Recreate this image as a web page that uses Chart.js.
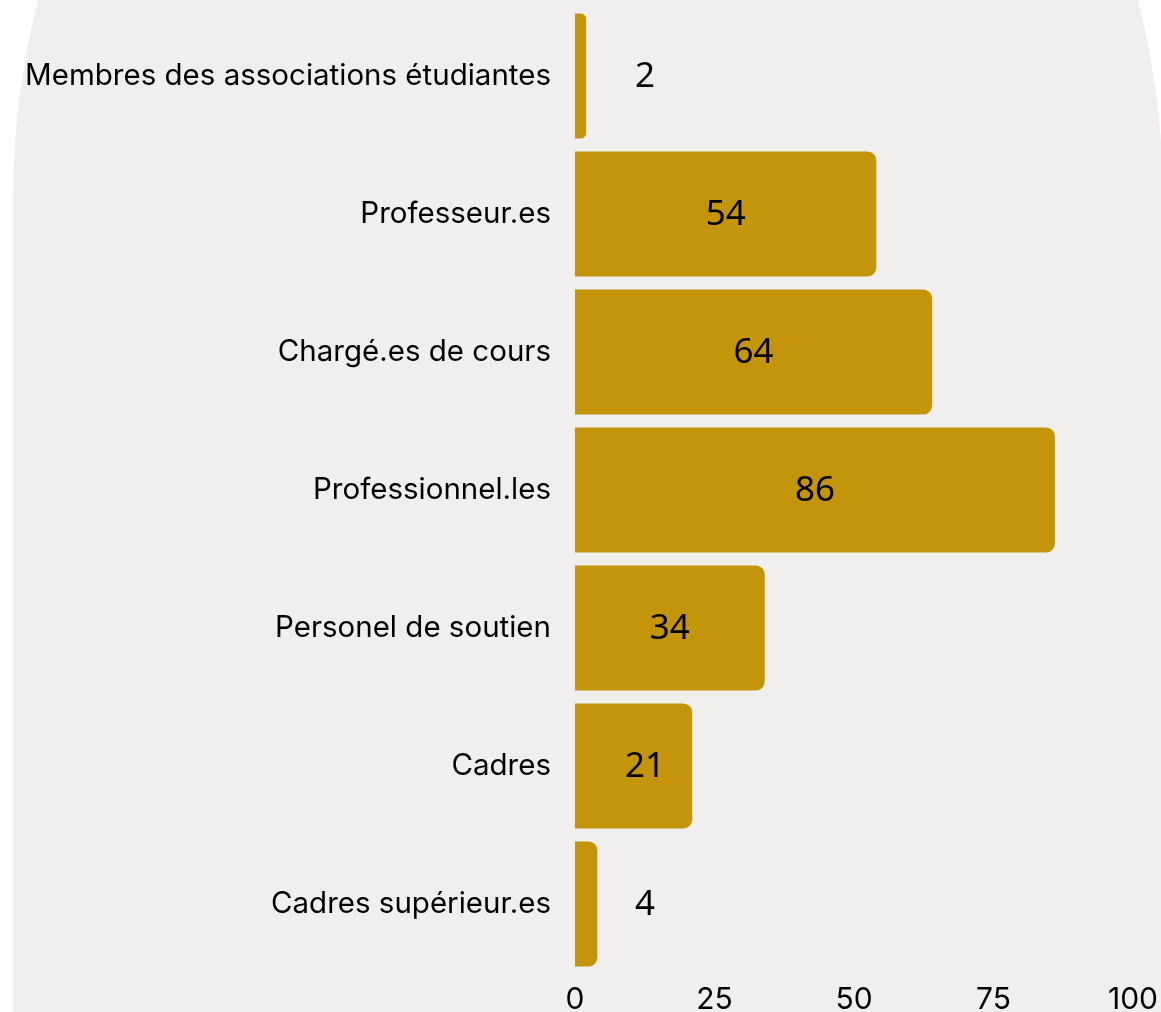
<!DOCTYPE html>
<html>
<head>
<meta charset="utf-8">
<script src="https://cdn.jsdelivr.net/npm/chart.js@4"></script>
<style>
  html, body { margin: 0; padding: 0; background: #ffffff; overflow: hidden; }
  #wrap { position: relative; width: 1161px; height: 1012px; }
  /* big rounded panel behind the chart */
  #panel {
    position: absolute; left: 13px; top: -486px; width: 1150px; height: 1600px;
    background: #f0efed;
    border-radius: 575px 575px 0 0 / 686px 686px 0 0;
  }
  #chart-box { position: absolute; left: 0; top: 0; width: 1161px; height: 1012px; }
</style>
</head>
<body>
<div id="wrap">
  <div id="panel"></div>
  <div id="chart-box"><canvas id="chart"></canvas></div>
</div>
<script>
const categories = [
  'Membres des associations étudiantes',
  'Professeur.es',
  'Chargé.es de cours',
  'Professionnel.les',
  'Personel de soutien',
  'Cadres',
  'Cadres supérieur.es'
];
const values = [2, 54, 64, 86, 34, 21, 4];
const xTicks = [0, 25, 50, 75, 100];

const barColor = '#c4940b';

// value labels: centred in the bar, pushed right when the bar is too short
const valueLabels = {
  id: 'valueLabels',
  afterDatasetsDraw(chart) {
    const { ctx } = chart;
    const meta = chart.getDatasetMeta(0);
    const xScale = chart.scales.x;
    const minX = xScale.getPixelForValue(0) + 70;
    ctx.save();
    ctx.font = '35px "Noto Sans", "Open Sans", sans-serif';
    ctx.fillStyle = '#000000';
    ctx.textAlign = 'center';
    ctx.textBaseline = 'middle';
    meta.data.forEach((bar, i) => {
      const center = (bar.base + bar.x) / 2;
      const x = Math.max(center, minX);
      ctx.fillText(String(values[i]), x, bar.y + 1);
    });
    ctx.restore();
  }
};

new Chart(document.getElementById('chart'), {
  type: 'bar',
  data: {
    labels: categories,
    datasets: [{
      data: values,
      backgroundColor: barColor,
      borderRadius: 9,
      borderSkipped: 'start',
      categoryPercentage: 1,
      barPercentage: 0.906
    }]
  },
  options: {
    indexAxis: 'y',
    responsive: true,
    maintainAspectRatio: false,
    animation: false,
    layout: { padding: { top: 7, right: 28, bottom: 0, left: 0 } },
    plugins: {
      legend: { display: false },
      tooltip: { enabled: false }
    },
    scales: {
      x: {
        min: 0,
        max: 100,
        afterBuildTicks: (axis) => { axis.ticks = xTicks.map(v => ({ value: v })); },
        afterFit: (axis) => {
          axis.height = 39;
          axis.paddingLeft = 0;
          axis.paddingRight = 0;
        },
        grid: { display: false, drawTicks: false },
        border: { display: false },
        ticks: {
          color: '#000000',
          padding: 9,
          maxRotation: 0,
          font: { family: 'Inter', size: 30 }
        }
      },
      y: {
        afterFit: (axis) => {
          axis.width = 575;
          axis.paddingTop = 0;
          axis.paddingBottom = 0;
        },
        grid: { display: false, drawTicks: false },
        border: { display: false },
        ticks: {
          color: '#000000',
          padding: 24,
          font: { family: 'Inter', size: 29.5 }
        }
      }
    }
  },
  plugins: [valueLabels]
});
</script>
</body>
</html>
